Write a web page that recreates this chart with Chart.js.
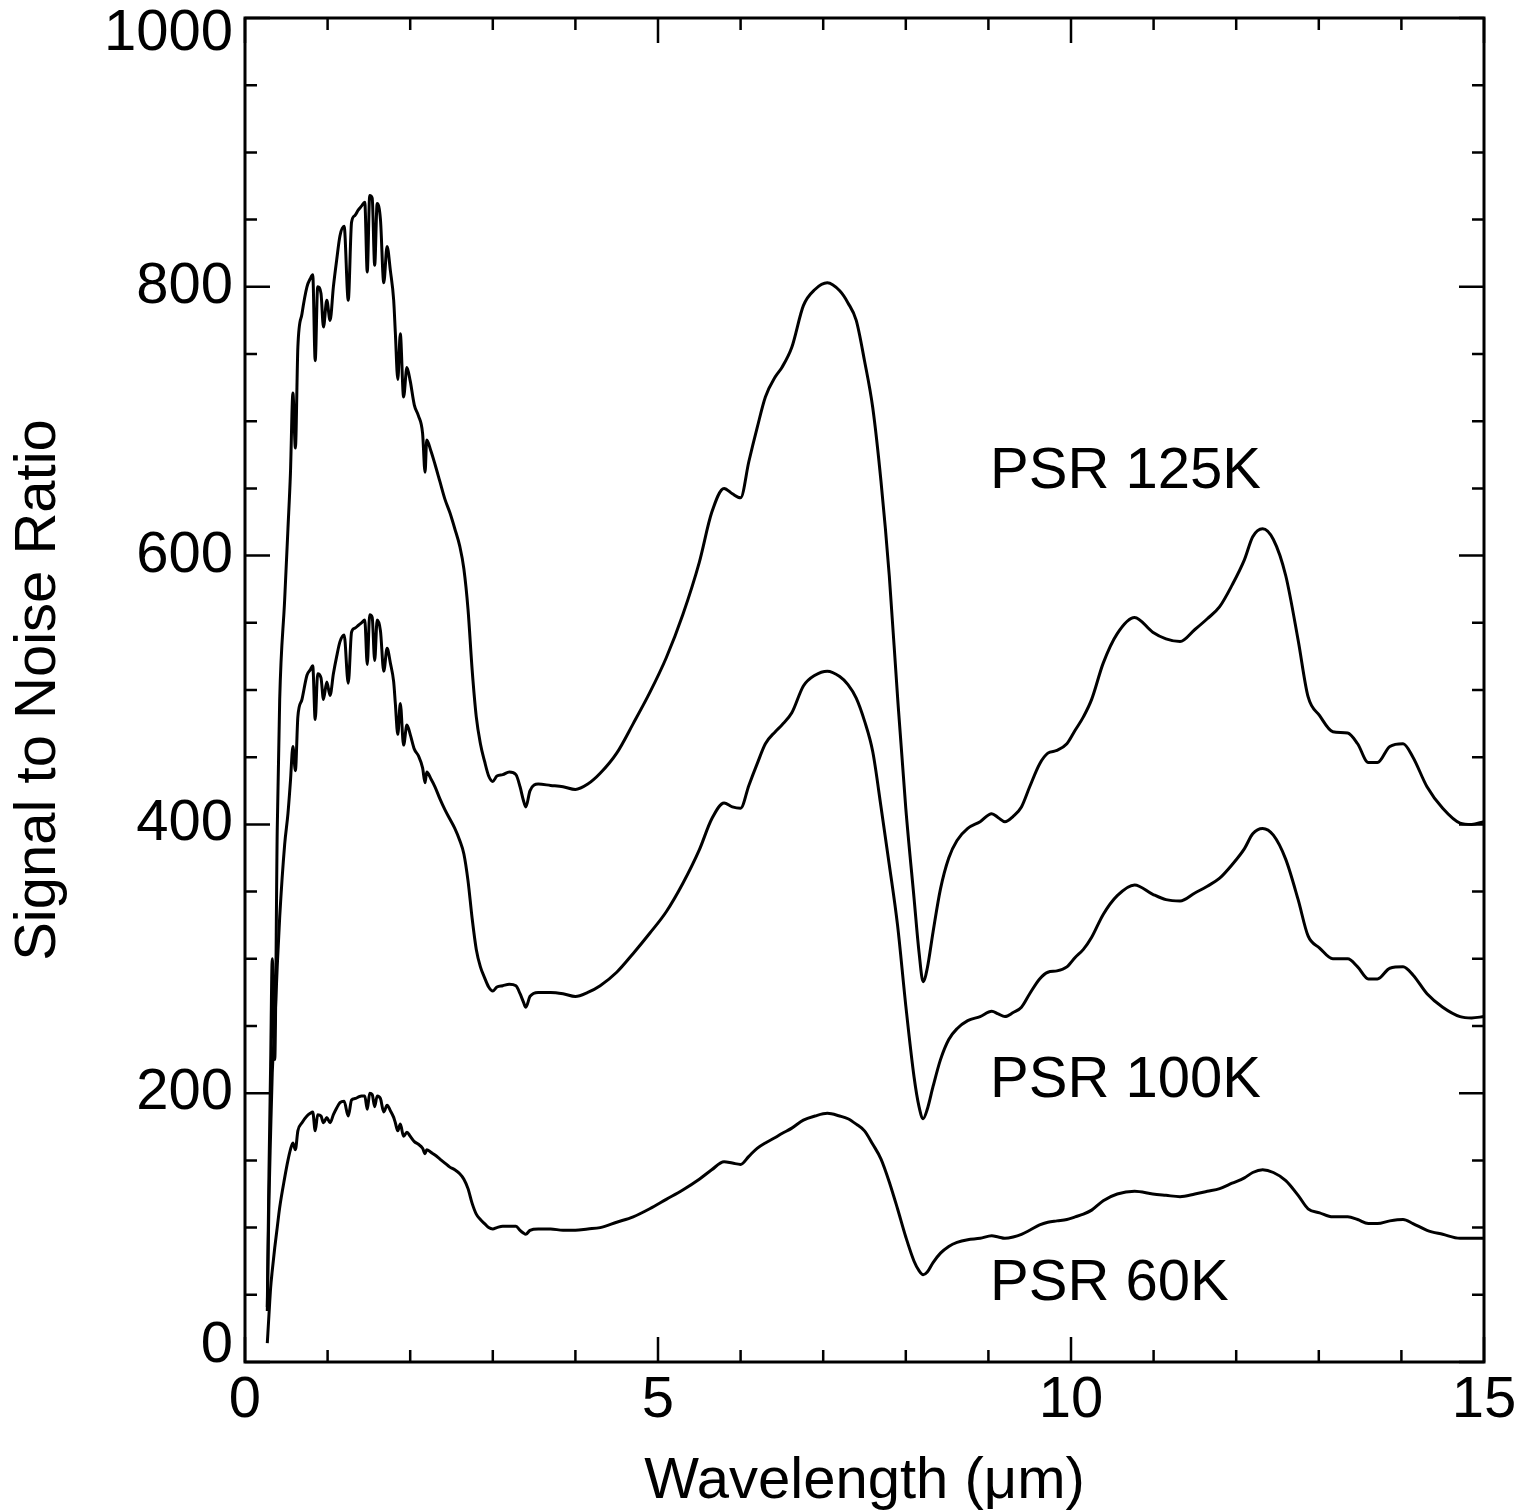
<!DOCTYPE html>
<html>
<head>
<meta charset="utf-8">
<script src="https://cdn.jsdelivr.net/npm/chart.js@4.4.1/dist/chart.umd.min.js"></script>
<style>
  html, body { margin: 0; padding: 0; background: #fff; }
</style>
</head>
<body>
<canvas id="snr-chart" width="1520" height="1511"></canvas>
<script>

// wavelength grid (um), shared by the three curves
const wavelength = [
  0.27, 0.29, 0.31, 0.33, 0.36, 0.39, 0.42, 0.48, 0.52, 0.55, 0.58, 0.61, 0.64, 0.69, 0.75,
  0.79, 0.82, 0.85, 0.88, 0.92, 0.95, 0.99, 1.03, 1.07, 1.11, 1.15, 1.20, 1.25, 1.29, 1.33,
  1.37, 1.41, 1.45, 1.48, 1.51, 1.54, 1.57, 1.60, 1.64, 1.68, 1.72, 1.76, 1.80, 1.82, 1.85,
  1.88, 1.92, 1.96, 2.00, 2.05, 2.10, 2.15, 2.18, 2.20, 2.25, 2.30, 2.36, 2.42, 2.48, 2.54,
  2.60, 2.65, 2.70, 2.75, 2.80, 2.85, 2.90, 2.95, 3.00, 3.05, 3.12, 3.20, 3.28, 3.33, 3.37,
  3.40, 3.45, 3.55, 3.70, 3.85, 4.00, 4.15, 4.30, 4.50, 4.70, 4.90, 5.10, 5.30, 5.50, 5.65,
  5.80, 5.90, 6.00, 6.10, 6.20, 6.30, 6.42, 6.50, 6.62, 6.76, 6.90, 7.05, 7.20, 7.30, 7.40,
  7.50, 7.60, 7.70, 7.80, 7.90, 8.00, 8.10, 8.16, 8.21, 8.26, 8.33, 8.42, 8.52, 8.62, 8.75,
  8.90, 9.04, 9.12, 9.20, 9.30, 9.40, 9.50, 9.62, 9.72, 9.83, 9.95, 10.05, 10.15, 10.25, 10.39,
  10.56, 10.77, 10.99, 11.15, 11.32, 11.50, 11.65, 11.80, 11.95, 12.10, 12.20, 12.32, 12.45, 12.60, 12.75,
  12.87, 13.01, 13.17, 13.35, 13.47, 13.60, 13.71, 13.86, 14.02, 14.14, 14.31, 14.50, 14.71, 14.85, 15.00
];

const psr125 = [
  41, 140, 220, 300, 225, 395, 493, 567, 620, 661, 721, 680, 755, 780, 800,
  806, 809, 745, 800, 795, 770, 790, 775, 800, 820, 838, 845, 790, 848, 853,
  857, 860, 863, 811, 868, 866, 816, 862, 850, 803, 830, 812, 790, 766, 731,
  765, 718, 740, 730, 712, 704, 691, 662, 686, 678, 668, 655, 642, 632, 620,
  607, 590, 560, 515, 480, 460, 447, 436, 432, 436, 437, 439, 437, 428, 418,
  413, 425, 430, 429, 428, 426, 430, 438, 453, 475, 498, 524, 556, 595, 632,
  650, 646, 643, 670, 695, 718, 733, 740, 755, 786, 798, 803, 797, 788, 775,
  745, 710, 655, 585, 495, 412, 345, 305, 283, 293, 320, 352, 375, 388, 397,
  402, 408, 405, 402, 406, 413, 428, 445, 453, 455, 460, 470, 480, 493, 520,
  542, 554, 543, 538, 536, 545, 553, 562, 578, 597, 614, 620, 612, 585, 537,
  495, 481, 469, 468, 460, 446, 446, 458, 460, 450, 428, 412, 401, 400, 402
];

const psr100 = [
  38, 120, 170, 215, 250, 294, 331, 385, 408, 432, 458, 440, 480, 493, 511,
  515, 518, 478, 512, 509, 493, 506, 496, 512, 525, 536, 541, 505, 543, 546,
  548, 550, 552, 519, 556, 554, 522, 552, 544, 514, 531, 520, 506, 490, 467,
  490, 459, 474, 467, 456, 451, 442, 431, 439, 434, 428, 419, 411, 404, 397,
  388, 378, 358, 330, 307, 294, 286, 279, 276, 279, 280, 281, 280, 274, 268,
  264, 272, 275, 275, 274, 272, 275, 280, 290, 304, 319, 335, 356, 381, 404,
  416, 413, 412, 429, 445, 460, 469, 474, 483, 503, 511, 514, 510, 504, 494,
  477, 454, 413, 370, 325, 265, 212, 190, 181, 188, 205, 225, 240, 248, 254,
  257, 261, 259, 257, 260, 264, 274, 285, 290, 291, 294, 301, 307, 316, 333,
  347, 355, 348, 344, 343, 349, 354, 360, 370, 382, 393, 397, 392, 374, 344,
  317, 308, 300, 300, 294, 285, 285, 293, 294, 288, 274, 264, 257, 256, 257
];

const psr60 = [
  14, 35, 55, 68, 85, 100, 115, 137, 150, 158, 163, 158, 172, 178, 183,
  185, 186, 172, 184, 183, 178, 182, 178, 184, 189, 193, 194, 183, 195, 196,
  197, 198, 198, 188, 200, 199, 190, 198, 196, 186, 191, 187, 182, 178, 172,
  177, 168, 171, 168, 164, 162, 159, 155, 158, 156, 154, 151, 148, 145, 143,
  140, 136, 129, 118, 110, 106, 103, 100, 99, 100, 101, 101, 101, 98, 96,
  95, 98, 99, 99, 98, 98, 99, 100, 104, 108, 114, 121, 128, 136, 143,
  149, 148, 147, 153, 159, 163, 167, 170, 174, 180, 183, 185, 183, 181, 177,
  172, 162, 151, 134, 114, 93, 75, 68, 65, 67, 74, 81, 86, 89, 91,
  92, 94, 93, 92, 93, 95, 98, 102, 104, 105, 106, 108, 110, 113, 120,
  125, 127, 125, 124, 123, 125, 127, 129, 133, 137, 141, 143, 141, 135, 124,
  114, 111, 108, 108, 106, 103, 103, 105, 106, 103, 98, 95, 92, 92, 92
];

const seriesNames = ["PSR 125K", "PSR 100K", "PSR 60K"];
const seriesValues = [psr125, psr100, psr60];

const xTicks = [0, 5, 10, 15];
const yTicks = [0, 200, 400, 600, 800, 1000];

Chart.defaults.font.family = '"Liberation Sans", Arial, Helvetica, sans-serif';
Chart.defaults.color = '#000';

// box round the plot with inward ticks, plus the curve names
const framePlugin = {
  id: 'framePlugin',
  afterDraw(chart) {
    const { ctx, chartArea: a, scales: { x, y } } = chart;
    ctx.save();
    ctx.strokeStyle = '#000';
    ctx.lineWidth = 3;
    ctx.strokeRect(a.left, a.top, a.right - a.left, a.bottom - a.top);

    ctx.lineWidth = 2.5;
    ctx.beginPath();
    for (let v = 0; v <= 1000; v += 50) {
      const py = y.getPixelForValue(v);
      const len = yTicks.includes(v) ? 25 : 12;
      ctx.moveTo(a.left, py); ctx.lineTo(a.left + len, py);
      ctx.moveTo(a.right, py); ctx.lineTo(a.right - len, py);
    }
    for (let v = 0; v <= 15; v += 1) {
      const px = x.getPixelForValue(v);
      const len = xTicks.includes(v) ? 25 : 12;
      ctx.moveTo(px, a.bottom); ctx.lineTo(px, a.bottom - len);
      ctx.moveTo(px, a.top); ctx.lineTo(px, a.top + len);
    }
    ctx.stroke();

    // names next to each curve
    const spots = [[9.02, 650], [9.02, 197], [9.02, 46]];
    ctx.fillStyle = '#000';
    ctx.font = '58px "Liberation Sans", Arial, sans-serif';
    ctx.textBaseline = 'alphabetic';
    ctx.textAlign = 'left';
    seriesNames.forEach((name, i) => {
      ctx.fillText(name, x.getPixelForValue(spots[i][0]), y.getPixelForValue(spots[i][1]));
    });
    ctx.restore();
  }
};

const datasets = seriesNames.map((name, i) => ({
  label: name,
  data: wavelength.map((w, j) => ({ x: w, y: seriesValues[i][j] })),
  showLine: true,
  borderColor: '#000',
  borderWidth: 3,
  pointRadius: 0,
  cubicInterpolationMode: 'monotone',
  fill: false
}));

const snrChart = new Chart(document.getElementById('snr-chart'), {
  type: 'scatter',
  data: { datasets },
  options: {
    responsive: false,
    devicePixelRatio: 1,
    animation: false,
    layout: { padding: { top: 18, right: 36, left: 0, bottom: 0 } },
    plugins: {
      legend: { display: false },
      tooltip: { enabled: false }
    },
    scales: {
      x: {
        type: 'linear',
        min: 0,
        max: 15,
        grid: { display: false, drawTicks: false },
        border: { display: false },
        afterBuildTicks: scale => { scale.ticks = xTicks.map(v => ({ value: v })); },
        ticks: {
          font: { size: 58 },
          padding: 4,
          maxRotation: 0,
          callback: v => String(v)
        },
        title: {
          display: true,
          text: 'Wavelength (\u03bcm)',
          font: { size: 58, lineHeight: 1.0 },
          padding: { top: 0, bottom: 0 }
        },
        afterFit: scale => {
          scale.height = 149;
          scale.paddingLeft = 0;
          scale.paddingRight = 0;
        }
      },
      y: {
        type: 'linear',
        min: 0,
        max: 1000,
        grid: { display: false, drawTicks: false },
        border: { display: false },
        afterBuildTicks: scale => { scale.ticks = yTicks.map(v => ({ value: v })); },
        ticks: {
          // end labels sit inside the frame height, as in the original
          font: c => ({ size: 58, lineHeight: (c.tick && (c.tick.value === 1000 || c.tick.value === 0)) ? 0.55 : 1.2 }),
          padding: 12,
          callback: v => v === 1000 ? ['', '1000'] : (v === 0 ? ['0', ''] : String(v))
        },
        title: {
          display: true,
          text: 'Signal to Noise Ratio',
          font: { size: 58, lineHeight: 1.0 },
          padding: { top: 10, bottom: 0 }
        },
        afterFit: scale => {
          scale.width = 245;
          scale.paddingTop = 0;
          scale.paddingBottom = 0;
        }
      }
    }
  },
  plugins: [framePlugin]
});
</script>
</body>
</html>
